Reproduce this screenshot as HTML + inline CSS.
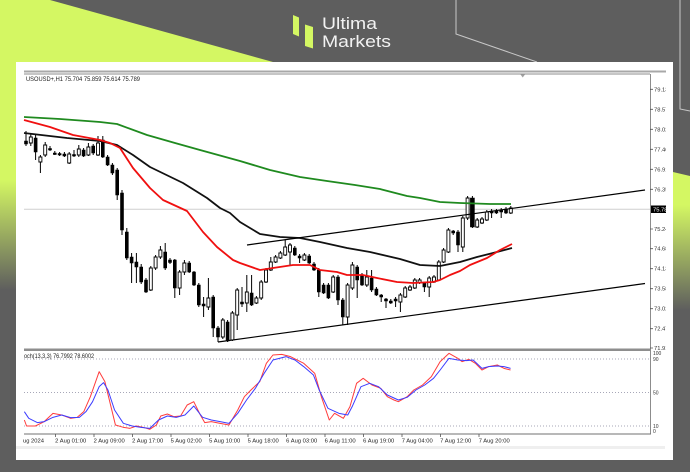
<!DOCTYPE html>
<html><head><meta charset="utf-8">
<style>
html,body{margin:0;padding:0;background:#5e5e5e;}
svg{display:block;}
text{font-family:"Liberation Sans",sans-serif;}
</style></head>
<body>
<svg width="690" height="472" viewBox="0 0 690 472" xmlns="http://www.w3.org/2000/svg">
<defs>
<linearGradient id="gl" gradientUnits="userSpaceOnUse" x1="0" y1="180" x2="0" y2="290">
<stop offset="0" stop-color="#d4f763"/><stop offset="1" stop-color="#5e5e5e"/>
</linearGradient>
<linearGradient id="gr" gradientUnits="userSpaceOnUse" x1="0" y1="205" x2="0" y2="310">
<stop offset="0" stop-color="#d4f763"/><stop offset="1" stop-color="#5e5e5e"/>
</linearGradient>
<clipPath id="axc"><rect x="640" y="60" width="26" height="400"/></clipPath>
</defs>
<rect x="0" y="0" width="690" height="472" fill="#5e5e5e"/>
<polygon points="0,0 50,0 273,62 0,62" fill="#d4f763"/>
<rect x="0" y="62" width="16" height="410" fill="url(#gl)"/>
<polygon points="673,172 690,176 690,472 673,472" fill="url(#gr)"/>
<polyline points="456,0 456,34 537,62" fill="none" stroke="#c8c8c8" stroke-width="1"/>
<polyline points="680,0 680,109 690,111" fill="none" stroke="#c8c8c8" stroke-width="1"/>

<!-- logo -->
<polygon points="293,15 299,17.5 299,36.5 293,34" fill="#d4f763"/>
<polygon points="305,24.5 313,27 313,48.5 305,46" fill="#d4f763"/>
<text x="322" y="29" font-size="17" fill="#f2f2f2" textLength="55" lengthAdjust="spacingAndGlyphs">Ultima</text>
<text x="322" y="47" font-size="17" fill="#f2f2f2" textLength="69" lengthAdjust="spacingAndGlyphs">Markets</text>

<!-- panel -->
<rect x="16" y="62" width="657" height="398" fill="#ffffff"/>
<rect x="24" y="70.5" width="642" height="2" fill="#a8a8a8"/>
<line x1="24" y1="74" x2="650" y2="74" stroke="#8c8c8c" stroke-width="1"/>
<line x1="650.5" y1="74" x2="650.5" y2="434" stroke="#8c8c8c" stroke-width="1"/>
<polygon points="520.5,74.5 525,74.5 522.7,77.5" fill="#a0a0a0"/>
<text x="26" y="81" font-size="6" fill="#222" textLength="114" lengthAdjust="spacingAndGlyphs">USOUSD+,H1  75.704 75.859 75.614 75.789</text>

<!-- current price line -->
<line x1="24" y1="209.3" x2="650" y2="209.3" stroke="#cfcfcf" stroke-width="1"/>

<!-- price axis -->
<g font-size="5.8" fill="#333" clip-path="url(#axc)">
<path d="M650 89.3h3M650 109.3h3M650 129.3h3M650 149.3h3M650 169.3h3M650 189.3h3M650 229h3M650 248.7h3M650 268.7h3M650 288.7h3M650 308.7h3M650 328.7h3M650 348h3" stroke="#555" stroke-width="0.8"/>
<text x="654" y="91.3">79.13</text>
<text x="654" y="111.3">78.57</text>
<text x="654" y="131.3">78.02</text>
<text x="654" y="151.3">77.46</text>
<text x="654" y="171.3">76.91</text>
<text x="654" y="191.3">76.35</text>
<rect x="651" y="205.5" width="16" height="7.5" fill="#000"/>
<text x="653" y="211.3" fill="#fff">75.789</text>
<text x="654" y="231">75.24</text>
<text x="654" y="250.7">74.68</text>
<text x="654" y="270.7">74.13</text>
<text x="654" y="290.7">73.58</text>
<text x="654" y="310.7">73.02</text>
<text x="654" y="330.7">72.47</text>
<text x="654" y="350">71.91</text>
</g>

<!-- candles: wicks -->
<path fill="none" stroke="#000" stroke-width="1" d="M26 131V146 M30.8 133V146 M35.6 135V160 M40.4 155V173 M45.2 142V157 M50 146V151 M54.8 151V155 M59.6 152V156 M64.4 152V157 M69.2 152V164 M74 150V157 M78.8 145V157 M83.6 148V157 M88.4 143V156 M93.2 144V155 M98 136V156 M102.8 136V158 M107.6 155V166 M112.4 163V175 M117.2 168V200 M122 190V235 M126.8 228V260 M131.6 253V283 M136.4 253V283 M141.2 264V284 M146 278V293 M150.8 266V291 M155.6 255V270 M160.4 246V259 M165.2 243V270 M170 258V264 M174.8 259V298 M179.6 270V295 M184.4 260V275 M189.2 261V273 M194 271V286 M198.8 283V307 M203.6 297V317 M208.4 278V310 M213.2 295V337 M218 326V342 M222.8 318V339 M227.6 320V342 M232.4 311V341 M237.2 288V330 M242 287V307 M246.8 275V312 M251.6 275V306 M256.4 296V304 M261.2 280V300 M266 268V283 M270.8 257V271 M275.6 255V263 M280.4 251V259 M285.2 240V256 M290 243V265 M294.8 246V256 M299.6 254V263 M304.4 253V261 M309.2 254V264 M314 262V271 M318.8 268V297 M323.6 283V294 M328.4 283V299 M333.2 275V293 M338 275V305 M342.8 298V325 M347.6 283V325 M352.4 262V290 M357.2 265V298 M362 273V286 M366.8 270V287 M371.6 270V292 M376.4 287V296 M381.2 294V302 M386 298V308 M390.8 299V304 M395.6 297V307 M400.4 293V312 M405.2 286V298 M410 285V291 M414.8 278V289 M419.6 278V284 M424.4 282V292 M429.2 276V297 M434 275V283 M438.8 260V281 M443.6 248V263 M448.4 228V253 M453.2 230V235 M458 230V252 M462.8 216V252 M467.6 196V220 M472.4 196V228 M477.2 218V228 M482 217V224 M486.8 210V221 M491.6 209V218 M496.4 209V214 M501.2 208V218 M506 207V214 M510.8 206V214"/>
<!-- bearish bodies -->
<path fill="#000" stroke="#000" stroke-width="0.6" d="M24.5 141h3V144h-3Z M34.1 138h3V152h-3Z M48.5 148.5h3V150h-3Z M53.3 153h3V154.5h-3Z M58.1 153.5h3V155h-3Z M62.9 154h3V156h-3Z M72.5 154.5h3V156h-3Z M82.1 150h3V156h-3Z M91.7 146h3V153h-3Z M101.3 140h3V157h-3Z M106.1 157h3V165h-3Z M110.9 165h3V173h-3Z M115.7 170h3V195h-3Z M120.5 193h3V230h-3Z M125.3 232h3V258h-3Z M130.1 257h3V263h-3Z M134.9 262h3V267h-3Z M139.7 267h3V282h-3Z M144.5 280h3V292h-3Z M163.7 252h3V268h-3Z M168.5 260h3V262.5h-3Z M173.3 260h3V288h-3Z M187.7 263h3V272h-3Z M192.5 272h3V285h-3Z M197.3 285h3V305h-3Z M202.1 304h3V306h-3Z M211.7 297h3V328h-3Z M216.5 328h3V337h-3Z M226.1 322h3V341h-3Z M240.5 302h3V304h-3Z M250.1 293h3V305h-3Z M293.3 248h3V255h-3Z M298.1 256h3V258h-3Z M307.7 256h3V263h-3Z M312.5 264h3V270h-3Z M317.3 270h3V292h-3Z M322.1 285h3V293h-3Z M326.9 285h3V298h-3Z M336.5 277h3V300h-3Z M341.3 300h3V317h-3Z M355.7 267h3V280h-3Z M360.5 275h3V285h-3Z M370.1 278h3V290h-3Z M374.9 289h3V295h-3Z M379.7 295h3V297h-3Z M384.5 299h3V301h-3Z M389.3 301h3V303h-3Z M394.1 299h3V301h-3Z M422.9 283h3V287h-3Z M451.7 231h3V233h-3Z M456.5 232h3V245h-3Z M470.4 198h4V227h-4Z M490.1 211h3V213h-3Z M494.9 211h3V213h-3Z M499.7 210h3V212h-3Z M504.5 209h3V213h-3Z"/>
<!-- bullish bodies -->
<path fill="#fff" stroke="#000" stroke-width="0.9" d="M29.3 137h3V143h-3Z M38.9 157h3V162h-3Z M43.7 145h3V155h-3Z M67.7 154h3V163h-3Z M77.3 149h3V155h-3Z M86.9 147h3V155h-3Z M96.5 143h3V155h-3Z M149.3 268h3V290h-3Z M154.1 257h3V268h-3Z M158.9 250h3V257h-3Z M178.1 272h3V288h-3Z M182.9 263h3V272h-3Z M206.9 298h3V307h-3Z M221.3 320h3V337h-3Z M230.9 313h3V340h-3Z M235.7 290h3V315h-3Z M245.3 292h3V303h-3Z M254.9 298h3V303h-3Z M259.7 282h3V298h-3Z M264.5 270h3V282h-3Z M269.3 262h3V270h-3Z M274.1 257h3V262h-3Z M278.9 253h3V258h-3Z M283.7 247h3V255h-3Z M288.5 245h3V252h-3Z M302.9 255h3V260h-3Z M331.7 277h3V292h-3Z M346.1 285h3V317h-3Z M350.9 265h3V288h-3Z M365.3 277h3V285h-3Z M398.9 295h3V302h-3Z M403.7 288h3V297h-3Z M408.5 287h3V290h-3Z M413.3 280h3V288h-3Z M418.1 280h3V283h-3Z M427.7 278h3V287h-3Z M432.5 277h3V282h-3Z M437.3 262h3V280h-3Z M442.1 250h3V262h-3Z M446.9 230h3V252h-3Z M461.3 218h3V247h-3Z M466.1 198h3V218h-3Z M475.7 220h3V227h-3Z M480.5 219h3V223h-3Z M485.3 212h3V220h-3Z M509.3 208h3V213h-3Z"/>

<!-- moving averages -->
<polyline fill="none" stroke="#1f8a1f" stroke-width="1.8" stroke-linejoin="round" points="24,117 60,119 100,122 117,124 147,135 175,143 200,150 240,161 270,170 300,177 327,181 355,185 380,189 407,196 420,198 440,202 460,203 490,204 511,204"/>
<polyline fill="none" stroke="#111" stroke-width="1.8" stroke-linejoin="round" points="24,133 67,138 100,141 117,145 133,155 150,167 183,183 207,198 220,208 230,213 240,222 260,234 280,237 300,238 320,242 347,248 370,252 400,259 420,265 440,266 460,262 477,257 493,253 512,248"/>
<polyline fill="none" stroke="#f01010" stroke-width="1.8" stroke-linejoin="round" points="24,120 50,127 73,135 100,140 110,143 120,148 133,168 150,188 163,200 187,211 203,232 217,247 233,260 240,263 260,270 273,268 293,265 310,265 320,270 337,272 347,275 363,275 377,278 397,282 413,283 433,282 440,280 450,275 460,271 470,265 487,258 500,250 512,244"/>

<!-- trendlines -->
<line x1="247" y1="245" x2="645" y2="190" stroke="#000" stroke-width="1.2"/>
<line x1="218" y1="342" x2="645" y2="283.5" stroke="#000" stroke-width="1.2"/>

<!-- separator -->
<rect x="24" y="348.5" width="626" height="2.5" fill="#8e8e8e"/>

<!-- stochastic window -->
<g stroke="#8a8aa0" stroke-width="0.8" stroke-dasharray="1,2">
<line x1="24" y1="359" x2="650" y2="359"/>
<line x1="24" y1="392.4" x2="650" y2="392.4"/>
<line x1="24" y1="426" x2="650" y2="426"/>
</g>
<line x1="24" y1="434" x2="651" y2="434" stroke="#707070" stroke-width="1"/>
<text x="24" y="358" font-size="6" fill="#222" textLength="70" lengthAdjust="spacingAndGlyphs">och(13,3,3) 76.7992 78.6002</text>
<g font-size="5" fill="#333">
<text x="653" y="355">100</text>
<text x="653" y="361">90</text>
<text x="653" y="394.5">50</text>
<text x="653" y="428">10</text>
<text x="653" y="433">0</text>
</g>
<g transform="matrix(0.44 0 0 0.33333 0.16 340)">
<polyline fill="none" stroke="#ff3c3c" stroke-width="1" vector-effect="non-scaling-stroke" stroke-linejoin="round" points="55,240 60,258 80,258 100,245 120,220 140,225 160,235 175,232 190,215 205,170 225,95 238,125 250,190 262,255 280,262 295,265 310,258 325,262 340,268 355,255 365,228 380,222 395,230 410,228 425,195 440,185 455,225 465,248 480,245 500,250 520,255 540,210 555,170 570,150 590,125 605,70 620,45 640,43 660,50 690,70 715,100 730,170 748,240 760,220 780,235 795,200 810,130 825,115 845,135 865,145 880,170 895,180 905,185 925,170 940,150 960,135 980,110 1000,65 1020,40 1040,55 1050,65 1065,58 1080,70 1095,90 1110,80 1130,75 1145,85 1160,90"/>
<polyline fill="none" stroke="#3c3cff" stroke-width="1" vector-effect="non-scaling-stroke" stroke-linejoin="round" points="55,215 65,235 85,248 100,245 120,232 140,225 160,233 180,232 195,215 210,185 225,140 235,128 245,150 260,210 280,250 300,258 320,262 340,265 360,240 380,228 400,232 420,225 440,198 460,232 480,240 500,245 520,250 540,220 560,180 580,145 600,100 620,60 650,50 670,60 690,80 712,105 725,150 745,205 770,220 790,225 800,200 820,140 840,130 860,140 880,165 905,180 925,172 945,150 965,135 985,115 1000,90 1020,55 1040,60 1060,62 1075,60 1095,85 1110,80 1130,78 1145,80 1160,85"/>
</g>

<!-- x axis -->
<path stroke="#555" stroke-width="0.8" d="M55.5 434v3M94 434v3M132.5 434v3M171 434v3M209.5 434v3M248 434v3M286.5 434v3M325 434v3M363.5 434v3M402 434v3M440.5 434v3M479 434v3"/>
<g font-size="5.8" fill="#222">
<text x="23" y="442.5">ug 2024</text>
<text x="55.2" y="442.5" textLength="31" lengthAdjust="spacingAndGlyphs">2 Aug 01:00</text>
<text x="93.7" y="442.5" textLength="31" lengthAdjust="spacingAndGlyphs">2 Aug 09:00</text>
<text x="132.2" y="442.5" textLength="31" lengthAdjust="spacingAndGlyphs">2 Aug 17:00</text>
<text x="170.7" y="442.5" textLength="31" lengthAdjust="spacingAndGlyphs">5 Aug 02:00</text>
<text x="209.2" y="442.5" textLength="31" lengthAdjust="spacingAndGlyphs">5 Aug 10:00</text>
<text x="247.7" y="442.5" textLength="31" lengthAdjust="spacingAndGlyphs">5 Aug 18:00</text>
<text x="286.2" y="442.5" textLength="31" lengthAdjust="spacingAndGlyphs">6 Aug 03:00</text>
<text x="324.7" y="442.5" textLength="31" lengthAdjust="spacingAndGlyphs">6 Aug 11:00</text>
<text x="363.2" y="442.5" textLength="31" lengthAdjust="spacingAndGlyphs">6 Aug 19:00</text>
<text x="401.7" y="442.5" textLength="31" lengthAdjust="spacingAndGlyphs">7 Aug 04:00</text>
<text x="440.2" y="442.5" textLength="31" lengthAdjust="spacingAndGlyphs">7 Aug 12:00</text>
<text x="478.7" y="442.5" textLength="31" lengthAdjust="spacingAndGlyphs">7 Aug 20:00</text>
</g>
<rect x="16" y="446" width="649" height="3" fill="#efefef"/>
</svg>
</body></html>
